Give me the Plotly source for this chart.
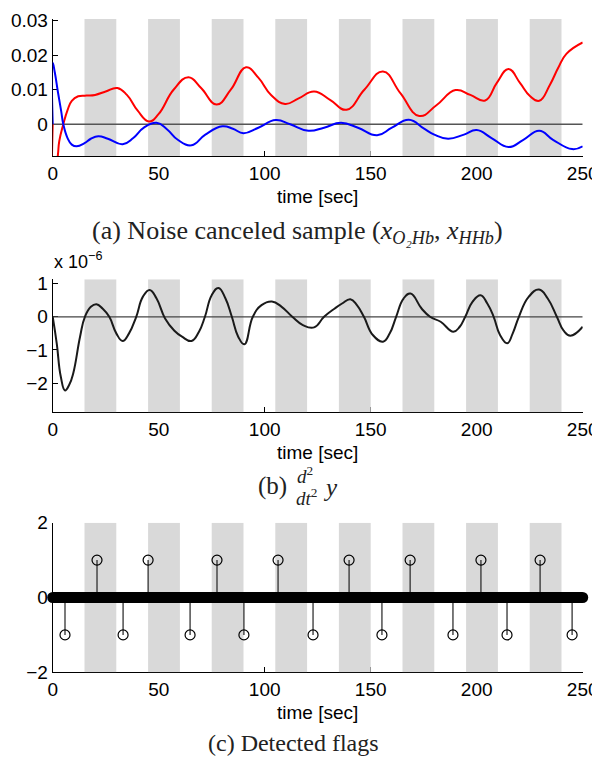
import plotly.graph_objects as go

# page geometry: the HTML body has an 8px default margin, so the figure is
# placed at (8, 8); all reference pixel positions are converted accordingly.
PAGE_W, PAGE_H = 600, 764
OFF = 8
W, H = PAGE_W - OFF, PAGE_H - 2 * OFF

# ---------------- data ----------------
task_onsets = [15, 45, 75, 105, 135, 165, 195, 225]   # grey task blocks [sec]
task_duration = 15

x_ticks = [0, 50, 100, 150, 200, 250]

# (a) noise-canceled sample
t_o2hb = [0, 0, 2.4, 3.1, 5, 7, 9, 12, 16, 20, 25, 30.5, 35, 40, 45.4, 50, 57, 64, 70,
          77.3, 84, 91.2, 97, 103, 109.6, 116, 123.3, 131, 138.6, 147, 155.8, 164,
          172.9, 181, 190, 197, 204, 209.5, 215, 220.4, 225.1, 229.5, 234.5, 238.4,
          242.3, 250]
x_o2hb = [0, -0.02, -0.0092, -0.0049, 0.0, 0.0041, 0.0068, 0.0081, 0.0083, 0.0085,
          0.0095, 0.0105, 0.0085, 0.0040, 0.0008, 0.0030, 0.0100, 0.0136, 0.0105,
          0.0057, 0.0100, 0.0165, 0.0135, 0.0085, 0.0059, 0.0075, 0.0095, 0.0070,
          0.0042, 0.0100, 0.0153, 0.0090, 0.0024, 0.0055, 0.0099, 0.0085, 0.0069,
          0.0120, 0.0160, 0.0120, 0.0082, 0.0068, 0.0114, 0.0163, 0.0204, 0.0237]

t_hhb = [0, 0, 1, 2.5, 4, 5, 7, 9, 11.3, 15, 18, 21.5, 26, 33, 38, 43, 49, 54, 59, 65.5,
         72, 80, 85, 90, 97, 105.2, 112, 120.6, 128, 136, 144, 153, 160, 168, 175, 180,
         186.5, 194, 200, 207, 215, 222, 229.5, 236, 245, 250]
x_hhb = [0, 0.0178, 0.0150, 0.0092, 0.0038, 0.0, -0.0040, -0.0059, -0.0064, -0.0055,
         -0.0042, -0.0035, -0.0042, -0.0058, -0.0040, -0.0010, 0.0004, -0.0015, -0.0045,
         -0.0061, -0.0030, -0.0006, -0.0013, -0.0026, -0.0010, 0.0012, 0.0000, -0.0019,
         -0.0010, 0.0004, -0.0010, -0.0032, -0.0010, 0.0013, -0.0012, -0.0030, -0.0042,
         -0.0030, -0.0017, -0.0040, -0.0066, -0.0045, -0.0019, -0.0045, -0.0072, -0.0064]

# (b) second derivative (values in units of 1e-6)
t_d2 = [0, 1.9, 3.8, 5.8, 7.8, 9.7, 12.9, 15.2, 18, 20.6, 23.5, 26.7, 30, 33, 36, 39.4,
        42.5, 45.7, 49, 53, 57.4, 61, 65.5, 69, 71.8, 75, 78.2, 81.5, 84.5, 87.5, 90.4,
        94.4, 98.5, 103.4, 108, 113, 118, 123.3, 128, 133, 136.5, 140.4, 143.5, 146.8,
        151, 155.8, 159, 162, 165.5, 168.8, 174, 178, 183, 189, 192, 194.6, 198,
        201.8, 205, 208, 211, 214.4, 217, 219.9, 224.5, 229.4, 233.5, 237.8, 241,
        244.2, 250]
d2y_e6 = [0, -0.8, -1.8, -2.22, -2.05, -1.7, -0.6, 0, 0.3, 0.38, 0.25, 0, -0.5, -0.73,
          -0.5, 0, 0.6, 0.81, 0.55, -0.05, -0.42, -0.6, -0.73, -0.45, 0, 0.65, 0.87,
          0.55, 0, -0.6, -0.83, 0, 0.35, 0.46, 0.3, 0, -0.25, -0.32, 0, 0.25, 0.4, 0.53,
          0.35, 0, -0.55, -0.75, -0.5, 0, 0.55, 0.70, 0.25, 0.0, -0.15, -0.45, -0.3, 0,
          0.45, 0.65, 0.4, 0, -0.55, -0.80, -0.5, 0, 0.6, 0.82, 0.55, 0, -0.42, -0.57,
          -0.30]

# (c) detected flags
flag_up_t = [20.9, 45.0, 77.5, 106.3, 139.8, 168.6, 202.0, 229.9]
flag_down_t = [5.8, 33.2, 64.8, 90.2, 122.8, 155.3, 188.8, 214.3, 245.0]

T_MIN, T_MAX = 0, 250
Y_RANGE_A = [-0.0092, 0.0305]
Y_RANGE_B = [-2.88, 1.13]
Y_RANGE_C = [-2, 2]

# ---------------- layout helpers ----------------
def px_x(p):
    return (p - OFF) / W

def px_y(p):
    return 1 - (p - OFF) / H

X_DOM = [px_x(52.7), px_x(582.7)]
DOMS = {'a': [px_y(156), px_y(19)], 'b': [px_y(412.3), px_y(279.3)], 'c': [px_y(672.3), px_y(522.7)]}

SANS = 'Liberation Sans, Arial, sans-serif'
SERIF = 'Liberation Serif, Times New Roman, serif'
TICKFONT = dict(family=SANS, size=19, color='black')

fig = go.Figure()

def add_bands(xa, ya, yr):
    fig.add_trace(go.Bar(
        x=[o + task_duration / 2 for o in task_onsets],
        y=[yr[1] - yr[0]] * len(task_onsets),
        base=yr[0], width=task_duration,
        marker=dict(color='#d9d9d9', line=dict(width=0)),
        xaxis=xa, yaxis=ya, showlegend=False, hoverinfo='skip'))

def add_zero(xa, ya, color, width):
    fig.add_trace(go.Scatter(x=[T_MIN, T_MAX], y=[0, 0], mode='lines',
                             line=dict(color=color, width=width),
                             xaxis=xa, yaxis=ya, showlegend=False, hoverinfo='skip'))

SPL = dict(shape='spline', smoothing=1.3)

# (a)
add_bands('x', 'y', Y_RANGE_A)
add_zero('x', 'y', '#555555', 1.5)
fig.add_trace(go.Scatter(x=t_o2hb, y=x_o2hb, mode='lines', line=dict(color='#ff0000', width=2, **SPL),
                         xaxis='x', yaxis='y', showlegend=False))
fig.add_trace(go.Scatter(x=t_hhb, y=x_hhb, mode='lines', line=dict(color='#0000ff', width=2, **SPL),
                         xaxis='x', yaxis='y', showlegend=False))

# (b)
add_bands('x2', 'y2', Y_RANGE_B)
add_zero('x2', 'y2', '#444444', 1.2)
fig.add_trace(go.Scatter(x=t_d2, y=d2y_e6, mode='lines', line=dict(color='#1a1a1a', width=2, **SPL),
                         xaxis='x2', yaxis='y2', showlegend=False))

# (c)
add_bands('x3', 'y3', Y_RANGE_C)
stem_x, stem_y = [], []
for t in flag_up_t:
    stem_x += [t, t, None]; stem_y += [0, 1, None]
for t in flag_down_t:
    stem_x += [t, t, None]; stem_y += [0, -1, None]
fig.add_trace(go.Scatter(x=stem_x, y=stem_y, mode='lines', line=dict(color='#222222', width=1.2),
                         xaxis='x3', yaxis='y3', showlegend=False, hoverinfo='skip'))
fig.add_trace(go.Scatter(x=flag_up_t + flag_down_t,
                         y=[1] * len(flag_up_t) + [-1] * len(flag_down_t),
                         mode='markers',
                         marker=dict(symbol='circle-open', size=10, color='black', line=dict(width=1.2)),
                         xaxis='x3', yaxis='y3', showlegend=False))
fig.add_trace(go.Scatter(x=[T_MIN, T_MAX], y=[0, 0], mode='lines+markers',
                         line=dict(color='black', width=11),
                         marker=dict(symbol='circle', size=11, color='black'),
                         cliponaxis=False,
                         xaxis='x3', yaxis='y3', showlegend=False, hoverinfo='skip'))

def xaxis(anchor):
    return dict(domain=X_DOM, range=[T_MIN, T_MAX], tickvals=x_ticks, ticks='inside', ticklen=5,
                tickcolor='black', showline=True, linecolor='black', linewidth=1,
                showgrid=False, zeroline=False, layer='below traces', tickfont=TICKFONT,
                anchor=anchor, fixedrange=True, automargin=False, ticklabeloverflow='allow')

def yaxis(dom, rng, tv, tt, anchor):
    return dict(domain=dom, range=rng, tickvals=tv, ticktext=tt, ticks='inside', ticklen=5,
                tickcolor='black', showline=True, linecolor='black', linewidth=1,
                showgrid=False, zeroline=False, layer='below traces', tickfont=TICKFONT,
                anchor=anchor, fixedrange=True, automargin=False, ticklabeloverflow='allow')

fig.update_layout(
    template='none',
    width=W, height=H, autosize=False,
    margin=dict(l=0, r=0, t=0, b=0, pad=0),
    paper_bgcolor='white', plot_bgcolor='white',
    barmode='overlay', showlegend=False,
    xaxis=xaxis('y'),
    xaxis2=xaxis('y2'),
    xaxis3=xaxis('y3'),
    yaxis=yaxis(DOMS['a'], Y_RANGE_A, [0, 0.01, 0.02, 0.03], ['0', '0.01', '0.02', '0.03'], 'x'),
    yaxis2=yaxis(DOMS['b'], Y_RANGE_B, [-2, -1, 0, 1], ['\u22122', '\u22121', '0', '1'], 'x2'),
    yaxis3=yaxis(DOMS['c'], Y_RANGE_C, [-2, 0, 2], ['\u22122', '0', '2'], 'x3'),
)

def ann(text, x, y, size, family, xanchor='center', yanchor='middle', color='black'):
    fig.add_annotation(text=text, x=px_x(x), y=px_y(y), xref='paper', yref='paper',
                       showarrow=False, xanchor=xanchor, yanchor=yanchor,
                       font=dict(family=family, size=size, color=color))

for yy in [196, 452, 712]:
    ann('time [sec]', 317.7, yy, 19, SANS)

ann('x 10<sup>\u22126</sup>', 52, 274, 18, SANS, xanchor='left', yanchor='bottom')

ann('(a) Noise canceled sample (<i>x</i><sub><i>O\u2082Hb</i></sub>, <i>x</i><sub><i>HHb</i></sub>)',
    297, 232, 26, SERIF, color='#222222')
ann('(b)', 272, 486, 25, SERIF, color='#222222')
ann('<i>d</i><sup>2</sup>', 305, 475, 19, SERIF, color='#222222')
ann('<i>dt</i><sup>2</sup>', 306, 497, 19, SERIF, color='#222222')
ann('<i>y</i>', 330, 487, 25, SERIF, color='#222222')
ann('(c) Detected flags', 293, 743, 24, SERIF, color='#222222')

fig.write_html('out.html')
